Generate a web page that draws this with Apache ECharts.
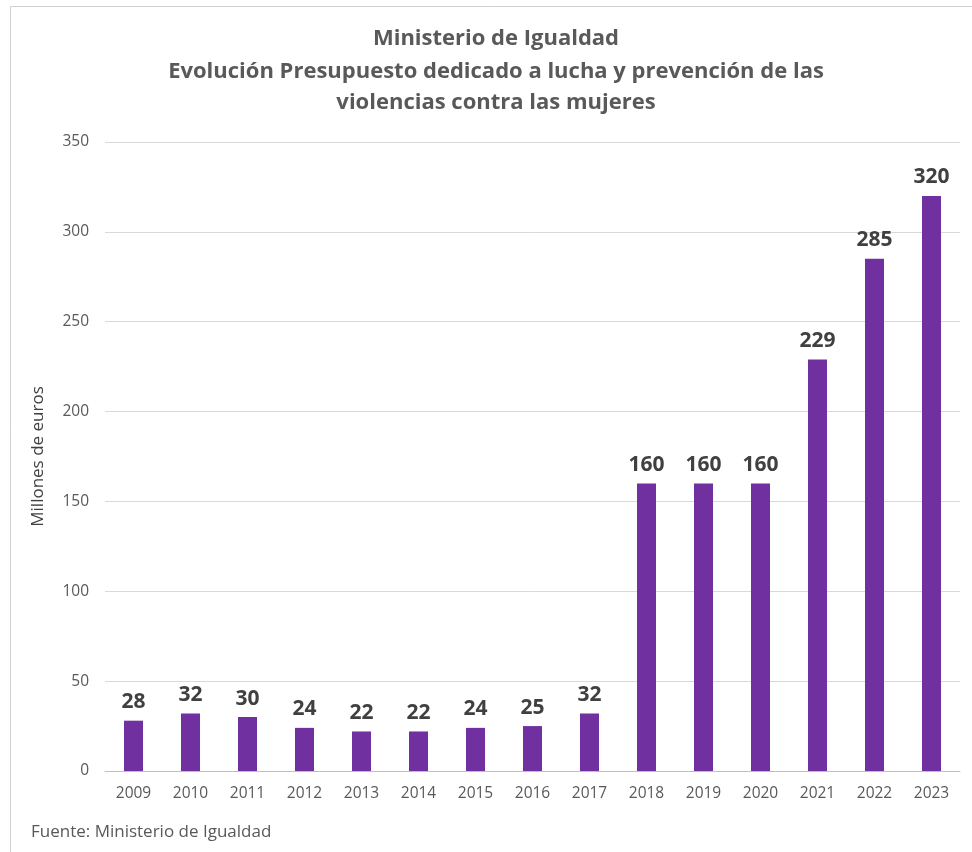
<!DOCTYPE html>
<html><head><meta charset="utf-8">
<script src="https://cdn.jsdelivr.net/npm/echarts@6/dist/echarts.min.js"></script>
<style>html,body{margin:0;padding:0;background:#fff}#c{width:972px;height:852px}</style>
</head><body><div id="c"></div>
<script>
const years = ['2009','2010','2011','2012','2013','2014','2015','2016','2017','2018','2019','2020','2021','2022','2023'];
const budget = [28,32,30,24,22,22,24,25,32,160,160,160,229,285,320];
const titleLines = ['Ministerio de Igualdad','Evolución Presupuesto dedicado a lucha y prevención de las','violencias contra las mujeres'];
const yAxisName = 'Millones de euros';
const source = 'Fuente: Ministerio de Igualdad';
const FONT = '"Open Sans", sans-serif';

const chart = echarts.init(document.getElementById('c'));
chart.setOption({
  animation: false,
  backgroundColor: '#fff',
  graphic: [
    {type:'rect', shape:{x:10.5,y:6.5,width:1000,height:900}, style:{fill:'none', stroke:'#d0d0d0', lineWidth:1}, silent:true},
    {type:'text', x:496, y:39, style:{text:titleLines[0], font:'bold 22px '+FONT, fill:'#595959', textAlign:'center', textVerticalAlign:'middle'}},
    {type:'text', x:496, y:72, style:{text:titleLines[1], font:'bold 22px '+FONT, fill:'#595959', textAlign:'center', textVerticalAlign:'middle'}},
    {type:'text', x:496, y:103, style:{text:titleLines[2], font:'bold 22px '+FONT, fill:'#595959', textAlign:'center', textVerticalAlign:'middle'}},
    {type:'text', x:31, y:832, style:{text:source, font:'17px '+FONT, fill:'#595959', textAlign:'left', textVerticalAlign:'middle'}}
  ],
  grid: {left:105, right:12, top:142, bottom:81, containLabel:false},
  xAxis: {
    type:'category', data: years,
    axisLine:{show:true, lineStyle:{color:'#bfbfbf', width:1}},
    axisTick:{show:false},
    axisLabel:{color:'#595959', fontSize:15.5, fontFamily:FONT, margin:15}
  },
  yAxis: {
    type:'value', min:0, max:350, interval:50,
    name: yAxisName, nameLocation:'middle', nameGap:58, nameRotate:90,
    nameTextStyle:{color:'#404040', fontSize:17, fontFamily:FONT},
    axisLine:{show:false}, axisTick:{show:false},
    axisLabel:{color:'#595959', fontSize:15.5, fontFamily:FONT, margin:16},
    splitLine:{lineStyle:{color:'#d9d9d9', width:1}}
  },
  series: [{
    type:'bar', data: budget, barWidth:19,
    itemStyle:{color:'#7030A0'},
    label:{show:true, position:'top', distance:8, color:'#404040', fontSize:21, fontWeight:'bold', fontFamily:FONT}
  }]
});
</script></body></html>
